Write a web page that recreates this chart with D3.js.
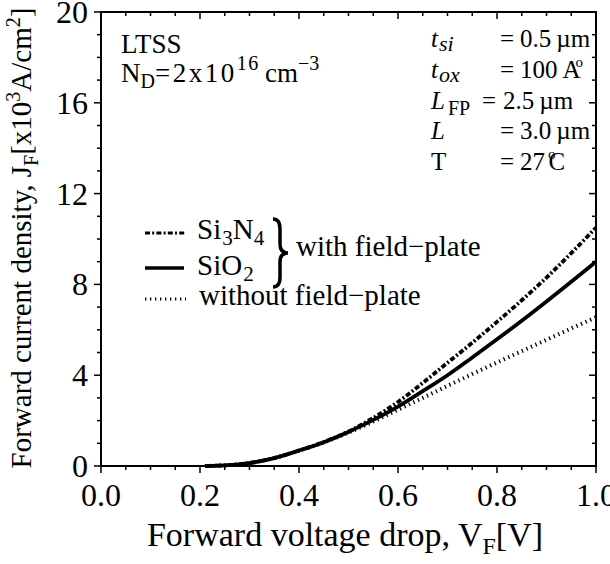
<!DOCTYPE html>
<html lang="en">
<head>
<meta charset="UTF-8">
<title>Forward current density vs voltage</title>
<script src="https://d3js.org/d3.v7.min.js"></script>
<style>
  body { margin: 0; background: #fff; }
  svg text { font-family: "Liberation Serif", "Times New Roman", serif; fill: #000; }
</style>
</head>
<body>
<script>
// data (V in volts, J in 10^3 A/cm^2)
var voltage = [0.21, 0.25, 0.3, 0.35, 0.4, 0.45, 0.5, 0.55, 0.6, 0.65, 0.7, 0.75, 0.8, 0.85, 0.9, 0.95, 1.0];
var si3n4   = [0, 0.03, 0.13, 0.35, 0.68, 1.06, 1.52, 2.12, 2.82, 3.66, 4.55, 5.43, 6.35, 7.3, 8.3, 9.38, 10.5];
var sio2    = [0, 0.03, 0.13, 0.35, 0.68, 1.05, 1.5, 2.03, 2.62, 3.3, 4.0, 4.78, 5.58, 6.4, 7.25, 8.12, 9.0];
var noFP    = [0, 0.03, 0.13, 0.35, 0.68, 1.04, 1.47, 1.96, 2.48, 3.0, 3.53, 4.05, 4.56, 5.06, 5.56, 6.06, 6.55];
var xTicks = [0.0, 0.2, 0.4, 0.6, 0.8, 1.0];
var yTicks = [0, 4, 8, 12, 16, 20];

var width = 610, height = 564;
// plot box (not "top": that name clashes with window.top)
var pL = 101, pR = 596, pT = 12, pB = 466;

var svg = d3.select("body").append("svg")
  .attr("width", width).attr("height", height);

var x = d3.scaleLinear().domain([0, 1]).range([pL, pR]);
var y = d3.scaleLinear().domain([0, 20]).range([pB, pT]);

// minor + major ticks on all four sides
var xMinor = d3.range(0, 1.0001, 0.05);
var yMinor = d3.range(0, 20.001, 1);
function isMajorX(v) { return Math.abs(v * 5 - Math.round(v * 5)) < 1e-6; }
function isMajorY(v) { return Math.round(v) % 4 === 0; }

var ticks = svg.append("g").attr("stroke", "#000").attr("stroke-width", 1.5);
xMinor.forEach(function (v) {
  var len = isMajorX(v) ? 7 : 4;
  ticks.append("line").attr("x1", x(v)).attr("x2", x(v)).attr("y1", pB).attr("y2", pB + len);
  ticks.append("line").attr("x1", x(v)).attr("x2", x(v)).attr("y1", pT).attr("y2", pT + len);
});
yMinor.forEach(function (v) {
  var len = isMajorY(v) ? 7 : 4;
  ticks.append("line").attr("x1", pL - len).attr("x2", pL).attr("y1", y(v)).attr("y2", y(v));
  ticks.append("line").attr("x1", pR - len).attr("x2", pR).attr("y1", y(v)).attr("y2", y(v));
});

// frame
svg.append("rect")
  .attr("x", pL).attr("y", pT)
  .attr("width", pR - pL).attr("height", pB - pT)
  .attr("fill", "none").attr("stroke", "#000").attr("stroke-width", 2);

// tick labels
svg.selectAll(".xl").data(xTicks).enter().append("text")
  .attr("x", function (d) { return x(d); })
  .attr("y", 506)
  .attr("text-anchor", "middle")
  .attr("font-size", 32)
  .text(function (d) { return d.toFixed(1); });

svg.selectAll(".yl").data(yTicks).enter().append("text")
  .attr("x", 88)
  .attr("y", function (d) { return y(d) + 11; })
  .attr("text-anchor", "end")
  .attr("font-size", 32)
  .text(function (d) { return d; });

// axis titles
var xt = svg.append("text").attr("x", 345).attr("y", 546)
  .attr("text-anchor", "middle").attr("font-size", 34);
xt.append("tspan").text("Forward voltage drop, V");
xt.append("tspan").attr("font-size", 24).attr("dy", 8).text("F");
xt.append("tspan").attr("dy", -8).text("[V]");

var yt = svg.append("text")
  .attr("transform", "translate(31,238) rotate(-90)")
  .attr("text-anchor", "middle").attr("font-size", 29);
yt.append("tspan").text("Forward current density, J");
yt.append("tspan").attr("font-size", 20).attr("dy", 7).text("F");
yt.append("tspan").attr("dy", -7).text("[x10");
yt.append("tspan").attr("font-size", 20).attr("dy", -11).text("3");
yt.append("tspan").attr("dy", 11).text("A/cm");
yt.append("tspan").attr("font-size", 20).attr("dy", -11).text("2");
yt.append("tspan").attr("dy", 11).text("]");

// curves
var line = d3.line()
  .x(function (d) { return x(d[0]); })
  .y(function (d) { return y(d[1]); })
  .curve(d3.curveMonotoneX);

function series(vals) { return voltage.map(function (v, i) { return [v, vals[i]]; }); }

var dashDot = "5,2.2,2,2.2";
var dotted = "1.3,3.7";

svg.append("path").datum(series(noFP))
  .attr("d", line).attr("fill", "none").attr("stroke", "#000")
  .attr("stroke-width", 4).attr("stroke-dasharray", dotted);
svg.append("path").datum(series(sio2))
  .attr("d", line).attr("fill", "none").attr("stroke", "#000")
  .attr("stroke-width", 3.8);
svg.append("path").datum(series(si3n4))
  .attr("d", line).attr("fill", "none").attr("stroke", "#000")
  .attr("stroke-width", 3.8).attr("stroke-dasharray", dashDot);

// legend
var lg = svg.append("g");
lg.append("line").attr("x1", 145).attr("x2", 186).attr("y1", 233).attr("y2", 233)
  .attr("stroke", "#000").attr("stroke-width", 3).attr("stroke-dasharray", dashDot);
lg.append("line").attr("x1", 145).attr("x2", 184).attr("y1", 268).attr("y2", 268)
  .attr("stroke", "#000").attr("stroke-width", 3.5);
lg.append("line").attr("x1", 145).attr("x2", 186).attr("y1", 299).attr("y2", 299)
  .attr("stroke", "#000").attr("stroke-width", 3).attr("stroke-dasharray", dotted);

var t1 = lg.append("text").attr("x", 197).attr("y", 239).attr("font-size", 29);
t1.append("tspan").text("Si");
t1.append("tspan").attr("font-size", 21).attr("dy", 6).attr("dx", 1).text("3");
t1.append("tspan").attr("dy", -6).text("N");
t1.append("tspan").attr("font-size", 21).attr("dy", 6).text("4");

var t2 = lg.append("text").attr("x", 197).attr("y", 275).attr("font-size", 29);
t2.append("tspan").text("SiO");
t2.append("tspan").attr("font-size", 21).attr("dy", 6).attr("dx", 1).text("2");

// curly brace joining the two field-plate entries
lg.append("path")
  .attr("d", "M273,219 Q280,219 280,229 L280,244 Q280,253 288,253 Q280,253 280,262 L280,277 Q280,287 273,287")
  .attr("fill", "none").attr("stroke", "#000").attr("stroke-width", 3.5);

lg.append("text").attr("x", 296).attr("y", 256).attr("font-size", 29).text("with field\u2212plate");
lg.append("text").attr("x", 199).attr("y", 305).attr("font-size", 29).text("without field\u2212plate");

// annotations top-left
svg.append("text").attr("x", 121).attr("y", 53).attr("font-size", 27).text("LTSS");
var nd = svg.append("text").attr("x", 121).attr("y", 82).attr("font-size", 27);
nd.append("tspan").text("N");
nd.append("tspan").attr("font-size", 20).attr("dy", 6).text("D");
nd.append("tspan").attr("dy", -6).attr("letter-spacing", 2.5).text("=2x10");
nd.append("tspan").attr("font-size", 20).attr("dy", -12).attr("letter-spacing", 1.5).text("16");
nd.append("tspan").attr("dy", 12).text("\u2009cm");
nd.append("tspan").attr("font-size", 20).attr("dy", -12).text("\u22123");

// annotations top-right
var paramNames = ["t", "t", "L", "L", "T"];
var paramSubs = ["si", "ox", "FP", "", ""];
var paramVals = ["0.5\u2009\u00b5m", "100\u2009A", "2.5\u2009\u00b5m", "3.0\u2009\u00b5m", "27"];
paramNames.forEach(function (nmText, i) {
  var yy = 47 + i * 30.8;
  var nm = svg.append("text").attr("x", 431).attr("y", yy).attr("font-size", 25);
  nm.append("tspan").attr("font-style", nmText === "T" ? "normal" : "italic").text(nmText);
  if (paramSubs[i]) {
    var fp = paramSubs[i] === "FP";
    nm.append("tspan")
      .attr("font-size", fp ? 20 : 22)
      .attr("dy", fp ? 6 : 4).attr("dx", fp ? 3 : 1)
      .attr("font-style", fp ? "normal" : "italic").text(paramSubs[i]);
  }
  var fpRow = paramSubs[i] === "FP";
  svg.append("text").attr("x", fpRow ? 482 : 500).attr("y", yy).attr("font-size", 25).text("=");
  var vt = svg.append("text").attr("x", fpRow ? 503 : 520).attr("y", yy).attr("font-size", 25);
  vt.append("tspan").text(paramVals[i]);
  if (i === 1) {
    vt.append("tspan").attr("font-size", 15).attr("dy", -11).attr("dx", -5).text("o");
  }
  if (i === 4) {
    vt.append("tspan").attr("font-size", 15).attr("dy", -11).attr("dx", 3).text("o");
    vt.append("tspan").attr("dy", 11).attr("dx", -7).text("C");
  }
});
</script>
</body>
</html>
